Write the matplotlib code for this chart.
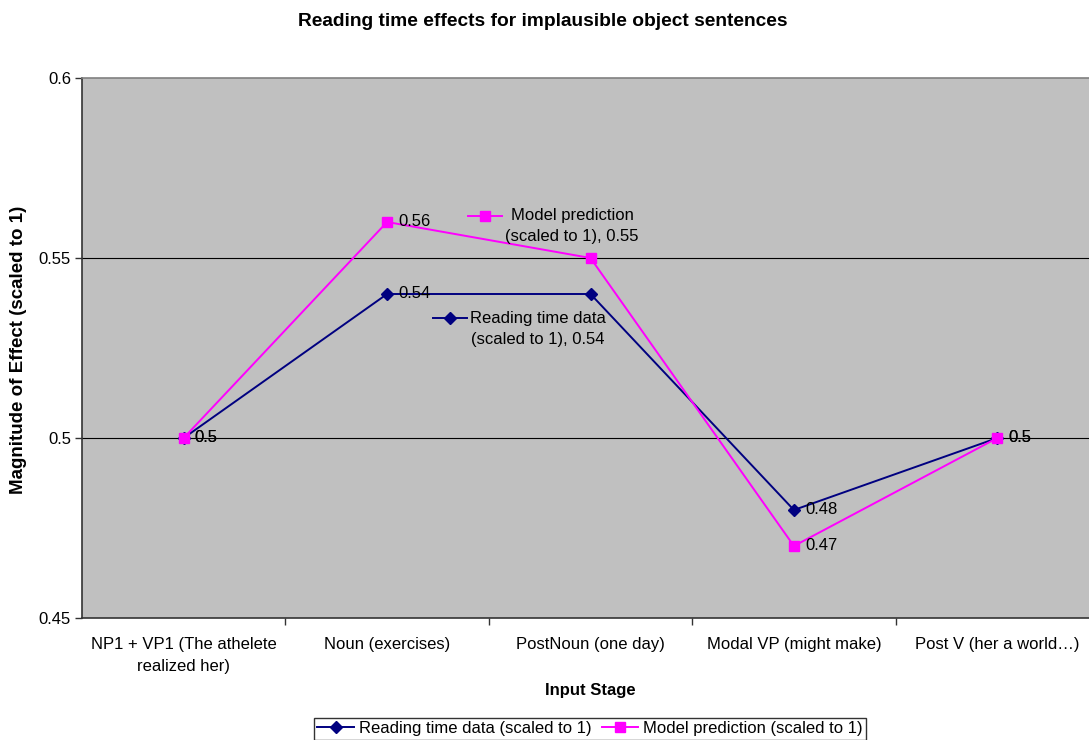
import matplotlib
matplotlib.use('Agg')
import matplotlib.pyplot as plt
from matplotlib.lines import Line2D

plt.rcParams['font.family'] = ['Liberation Sans', 'DejaVu Sans']

stages = ["NP1 + VP1 (The athelete\nrealized her)", "Noun (exercises)",
          "PostNoun (one day)", "Modal VP (might make)", "Post V (her a world\u2026)"]
reading = [0.50, 0.54, 0.54, 0.48, 0.50]
model = [0.50, 0.56, 0.55, 0.47, 0.50]
# point whose value is shown in the series-name callout instead of a plain label
callout_idx = 2

NAVY = '#000080'
MAGENTA = '#FF00FF'
PLOT_BG = '#C0C0C0'

fig = plt.figure(figsize=(10.89, 7.40), dpi=100, facecolor='white')
ax = fig.add_axes([82 / 1089, 122 / 740, 1017 / 1089, 540 / 740])
ax.set_facecolor(PLOT_BG)

x = list(range(len(stages)))
ax.plot(x, reading, color=NAVY, lw=1.4, marker='D', ms=6, mfc=NAVY, mec=NAVY, zorder=3)
ax.plot(x, model, color=MAGENTA, lw=1.4, marker='s', ms=7.5, mfc=MAGENTA, mec=MAGENTA, zorder=4)

# value labels to the right of each point
for series in (reading, model):
    for xi, v in zip(x, series):
        if xi == callout_idx:
            continue
        ax.annotate(f"{v:g}", (xi, v), xytext=(8, 0), textcoords='offset points',
                    ha='left', va='center', fontsize=12, color='black', zorder=5)

ax.set_xlim(-0.5, len(stages) - 0.5)
ax.set_ylim(0.45, 0.6)
ax.set_yticks([0.45, 0.5, 0.55, 0.6])
ax.set_yticklabels(['0.45', '0.5', '0.55', '0.6'], fontsize=12)
ax.set_xticks(x)
ax.set_xticklabels(stages, fontsize=12, linespacing=1.55)
ax.set_xticks([i + 0.5 for i in x[:-1]], minor=True)
ax.tick_params(axis='x', which='major', length=0, pad=14)
ax.tick_params(axis='x', which='minor', length=5, color='#333333', width=1)
ax.tick_params(axis='y', length=5, color='#333333', width=1, pad=3)

for y in (0.5, 0.55):
    ax.axhline(y, color='black', lw=0.8, zorder=1)
ax.spines['right'].set_visible(False)
ax.spines['top'].set_color('#808080')
ax.spines['top'].set_linewidth(1.2)
for side in ('left', 'bottom'):
    ax.spines[side].set_color('#333333')
    ax.spines[side].set_linewidth(1.2)


# series-name callouts with a legend key in front of the first line
def callout(key_x, key_y, text_x, color, marker, ms, text):
    ax.plot(key_x, [key_y, key_y], color=color, lw=1.4, zorder=5)
    ax.plot([sum(key_x) / 2], [key_y], marker=marker, color=color, ms=ms, zorder=5)
    ax.text(text_x, key_y - 0.0029, text, fontsize=12, ha='center', va='center',
            multialignment='center', linespacing=1.5, zorder=5)


callout([1.398, 1.565], 0.5617, 1.909, MAGENTA, 's', 7.5,
        f"Model prediction\n(scaled to 1), {model[callout_idx]:g}")
callout([1.226, 1.393], 0.5333, 1.742, NAVY, 'D', 6,
        f"Reading time data\n(scaled to 1), {reading[callout_idx]:g}")

fig.text(543 / 1089, 1 - 21 / 740, "Reading time effects for implausible object sentences",
         ha='center', va='center', fontsize=13.8, fontweight='bold')
fig.text(19 / 1089, 1 - 350 / 740, "Magnitude of Effect (scaled to 1)", rotation=90,
         ha='center', va='center', fontsize=13.5, fontweight='bold')
fig.text(590 / 1089, 1 - 691 / 740, "Input Stage", ha='center', va='center',
         fontsize=12, fontweight='bold')

handles = [Line2D([], [], color=NAVY, lw=1.4, marker='D', ms=6),
           Line2D([], [], color=MAGENTA, lw=1.4, marker='s', ms=7.5)]
leg = fig.legend(handles, ["Reading time data (scaled to 1)", "Model prediction (scaled to 1)"],
                 loc='upper center', bbox_to_anchor=(590 / 1089, 1 - 718 / 740), ncol=2,
                 fontsize=12, frameon=True, fancybox=False, edgecolor='black',
                 handlelength=2.2, handletextpad=0.3, columnspacing=0.6, borderpad=0.2,
                 borderaxespad=0)
leg.get_frame().set_linewidth(1.0)

fig.savefig('out.png', dpi=100, facecolor='white')
